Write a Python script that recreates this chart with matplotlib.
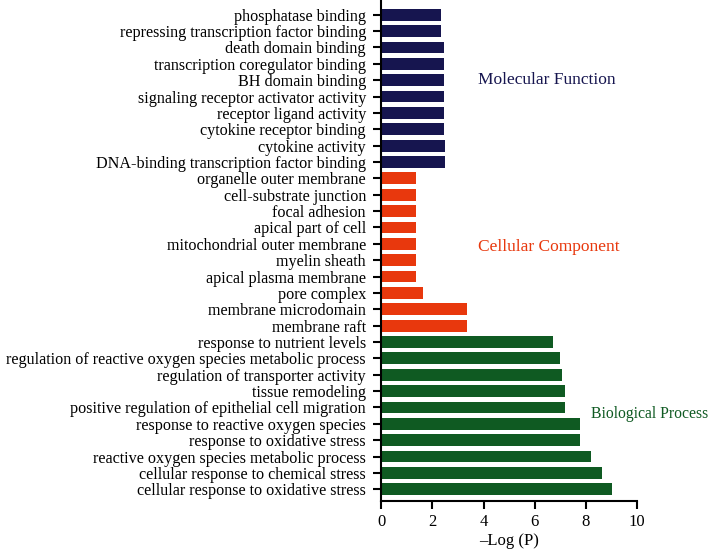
import numpy as np
import matplotlib.pyplot as plt

plt.rcParams['font.family'] = ['Liberation Serif', 'DejaVu Serif']

# terms listed top to bottom
mf_terms = ["phosphatase binding", "repressing transcription factor binding",
            "death domain binding", "transcription coregulator binding",
            "BH domain binding", "signaling receptor activator activity",
            "receptor ligand activity", "cytokine receptor binding",
            "cytokine activity", "DNA-binding transcription factor binding"]
mf_vals = [2.32, 2.34, 2.45, 2.45, 2.45, 2.45, 2.45, 2.45, 2.49, 2.49]

cc_terms = ["organelle outer membrane", "cell-substrate junction", "focal adhesion",
            "apical part of cell", "mitochondrial outer membrane", "myelin sheath",
            "apical plasma membrane", "pore complex", "membrane microdomain",
            "membrane raft"]
cc_vals = [1.34, 1.34, 1.34, 1.34, 1.35, 1.36, 1.36, 1.65, 3.37, 3.37]

bp_terms = ["response to nutrient levels",
            "regulation of reactive oxygen species metabolic process",
            "regulation of transporter activity", "tissue remodeling",
            "positive regulation of epithelial cell migration",
            "response to reactive oxygen species", "response to oxidative stress",
            "reactive oxygen species metabolic process",
            "cellular response to chemical stress",
            "cellular response to oxidative stress"]
bp_vals = [6.72, 6.98, 7.07, 7.2, 7.2, 7.76, 7.78, 8.21, 8.63, 9.04]

groups = ["Molecular Function", "Cellular Component", "Biological Process"]
colors = ["#16154f", "#e8380d", "#0f5a22"]

fig = plt.figure(figsize=(7.1, 5.52), dpi=100)
ax = fig.add_axes([0.537, 0.092, 0.36, 0.908])

terms = mf_terms + cc_terms + bp_terms
vals = mf_vals + cc_vals + bp_vals
cols = [colors[0]] * 10 + [colors[1]] * 10 + [colors[2]] * 10
y = np.arange(len(terms))

ax.barh(y, vals, height=0.72, color=cols)
ax.set_yticks(y)
ax.set_yticklabels(terms, fontsize=11.6)
ax.set_ylim(len(terms) - 0.27, -0.9)
ax.set_xlim(0, 10)
ax.set_xticks([0, 2, 4, 6, 8, 10])
ax.tick_params(axis='x', labelsize=12, length=6, width=1.5, direction='out')
ax.tick_params(axis='y', length=6, width=1.5, direction='out', pad=5)
ax.set_xlabel("–Log (P)", fontsize=12, labelpad=2)

for s in ['top', 'right']:
    ax.spines[s].set_visible(False)
for s in ['left', 'bottom']:
    ax.spines[s].set_linewidth(1.5)

ax.text(3.8, 4, groups[0], color=colors[0], fontsize=12.5, va='center', clip_on=False)
ax.text(3.8, 14.2, groups[1], color=colors[1], fontsize=12.5, va='center', clip_on=False)
ax.text(8.2, 24.4, groups[2], color=colors[2], fontsize=11.3, va='center', clip_on=False)

fig.savefig("out.png", dpi=100)
